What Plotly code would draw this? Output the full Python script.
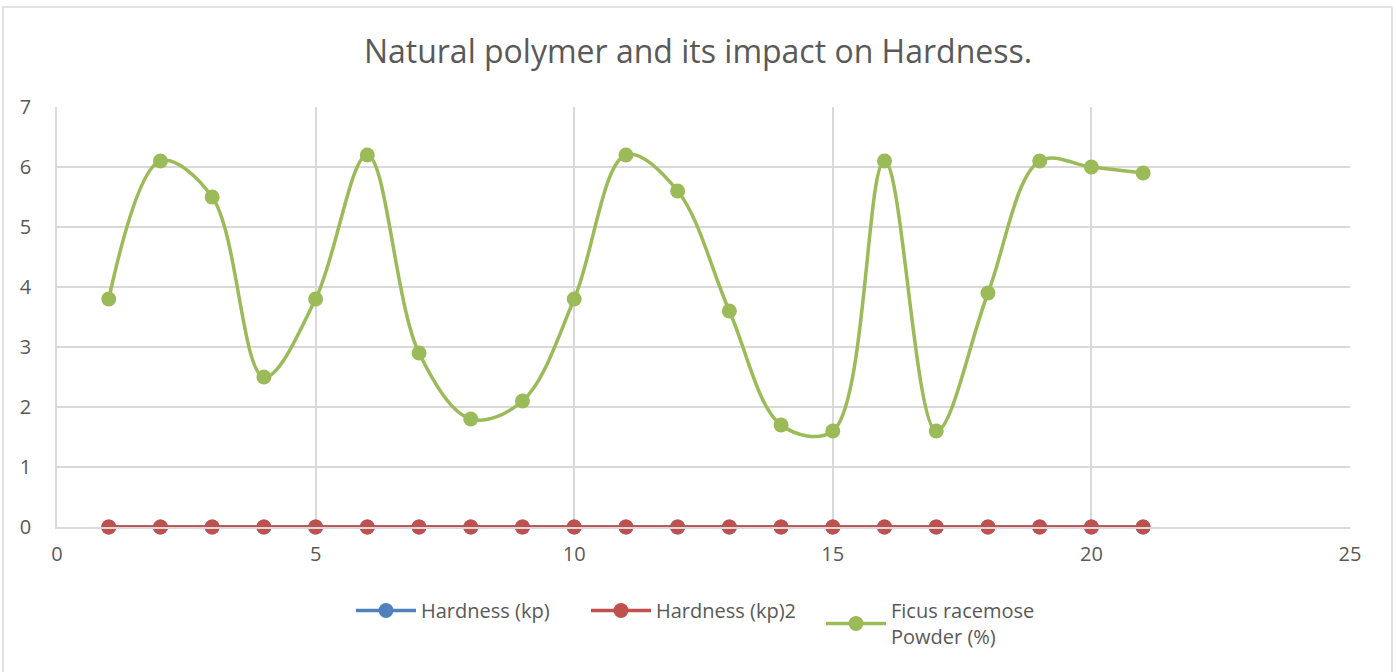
import plotly.graph_objects as go

x_vals = list(range(1, 22))
hardness = [0] * 21
hardness2 = [0] * 21
ficus = [3.8, 6.1, 5.5, 2.5, 3.8, 6.2, 2.9, 1.8, 2.1, 3.8, 6.2, 5.6, 3.6, 1.7, 1.6, 6.1, 1.6, 3.9, 6.1, 6.0, 5.9]

title = "Natural polymer and its impact on Hardness."
names = ["Hardness (kp)", "Hardness (kp)2", "Ficus racemose<br>Powder (%)"]
colors = ["#4f81bd", "#c0504d", "#9bbb59"]

fig = go.Figure()
for name, ys, col, shape in zip(names, [hardness, hardness2, ficus], colors, ["linear", "linear", "spline"]):
    fig.add_trace(go.Scatter(
        x=x_vals, y=ys, name=name, mode="lines+markers", cliponaxis=False,
        line=dict(color=col, width=3.5, shape=shape, smoothing=1.0),
        marker=dict(color=col, size=15),
    ))

W, H = 1396, 672
L, R, T, B = 57, 46, 107, 145
pw, ph = W - L - R, H - T - B

def py(page_y):
    return (527 - page_y) / ph

def px(page_x):
    return (page_x - 57) / pw

fig.update_layout(
    width=W, height=H,
    margin=dict(l=L, r=R, t=T, b=B),
    paper_bgcolor="white", plot_bgcolor="white",
    font=dict(family="Open Sans", color="#595959", size=20),
    title=dict(text=title, x=0.5, xanchor="center", y=1 - 52 / H, yanchor="middle",
               font=dict(size=32, color="#595959")),
    xaxis=dict(range=[0, 25], dtick=5, showgrid=True, gridcolor="#d9d9d9", gridwidth=1.5,
               zeroline=False, showline=True, linecolor="#d9d9d9", linewidth=1.5,
               ticks="", ticklabelstandoff=8, fixedrange=True, tickfont=dict(size=20)),
    yaxis=dict(range=[0, 7], dtick=1, showgrid=True, gridcolor="#d9d9d9", gridwidth=1.5,
               zeroline=False, showline=True, linecolor="#d9d9d9", linewidth=1.5,
               ticks="", ticklabelstandoff=20, fixedrange=True, tickfont=dict(size=20)),
    legend=dict(orientation="h", x=0.5, xanchor="center", y=py(591), yanchor="top",
                font=dict(size=20, color="#595959"), traceorder="normal",
                itemwidth=60, entrywidth=160),
    showlegend=True,
    shapes=[dict(type="rect", xref="paper", yref="paper",
                 x0=px(3), x1=px(1392), y0=py(690), y1=py(7),
                 line=dict(color="#d9d9d9", width=1.5), fillcolor="rgba(0,0,0,0)", layer="below")],
)

fig.write_html("out.html", config={"displayModeBar": False},
               post_script="document.body.style.margin='0';")
